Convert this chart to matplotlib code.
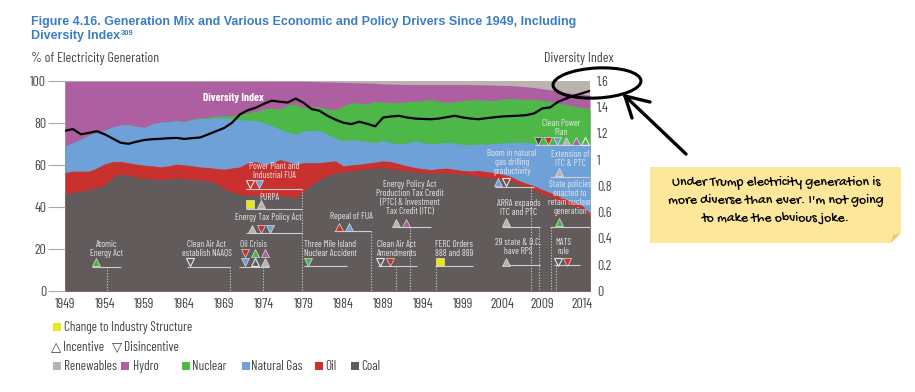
import numpy as np
import matplotlib
matplotlib.use("Agg")
import matplotlib.pyplot as plt
from matplotlib import font_manager
from matplotlib.patches import Ellipse, Rectangle, Polygon
from matplotlib.transforms import IdentityTransform
from matplotlib.lines import Line2D

# ---- data ----
years = np.arange(1949, 2016)

# upper edge of each band, cumulative % of generation
coal_top = [46.0, 47.0, 47.5, 48.2, 49.0, 50.5, 54.0, 55.6, 55.0, 54.0,
            53.5, 53.2, 53.0, 53.2, 53.6, 53.4, 53.2, 52.8, 52.4, 51.0,
            48.5, 47.0, 46.0, 45.5, 45.5, 45.0, 45.2, 45.5, 45.0, 44.4,
            47.5, 50.5, 53.0, 55.0, 56.0, 56.5, 57.0, 57.5, 58.0, 58.5,
            58.7, 58.0, 57.5, 57.0, 56.5, 56.3, 56.0, 56.0, 56.0, 55.8,
            55.6, 55.0, 54.5, 54.0, 53.6, 53.0, 52.2, 51.0, 49.5, 48.3,
            46.0, 45.0, 43.0, 41.0, 40.5, 39.5, 35.5]
oil_top = [56.3, 57.0, 57.0, 57.0, 58.5, 60.5, 61.5, 61.6, 61.0, 60.3,
           59.8, 59.5, 59.0, 59.5, 60.3, 60.0, 59.5, 59.0, 58.7, 58.3,
           57.9, 58.5, 59.0, 61.0, 61.5, 60.3, 60.8, 62.5, 61.5, 60.3,
           61.0, 61.0, 61.0, 61.5, 61.9, 59.5, 60.0, 60.3, 60.8, 61.3,
           61.9, 61.5, 60.5, 59.5, 58.7, 58.2, 57.7, 58.2, 58.4, 57.9,
           57.3, 57.1, 57.3, 56.8, 56.3, 55.5, 54.5, 52.6, 51.2, 50.0,
           48.3, 46.8, 45.3, 43.5, 42.2, 40.7, 37.0]
gas_top = [69.0, 70.5, 72.2, 74.0, 75.5, 76.5, 78.0, 79.0, 79.0, 78.3,
           77.8, 79.5, 80.3, 80.5, 81.0, 80.5, 81.5, 82.0, 82.0, 82.5,
           82.3, 82.0, 81.5, 81.2, 81.0, 80.0, 78.5, 77.0, 75.5, 74.6,
           76.0, 76.5, 76.2, 74.6, 72.5, 71.5, 72.0, 71.5, 71.0, 70.6,
           71.5, 70.6, 70.0, 70.5, 71.4, 70.6, 70.0, 70.3, 70.6, 70.2,
           69.8, 69.5, 70.0, 69.8, 70.2, 70.4, 70.6, 70.8, 70.6, 70.2,
           69.8, 69.8, 70.0, 70.2, 70.0, 70.0, 70.2]
nuclear_top = [69.0, 70.5, 72.2, 74.0, 75.5, 76.5, 78.0, 79.0, 79.0, 78.3,
               77.8, 79.5, 80.3, 80.5, 81.1, 80.7, 81.8, 82.4, 82.6, 83.3,
               83.3, 83.4, 84.1, 84.7, 85.5, 86.5, 87.0, 86.5, 88.5, 88.8,
               87.0, 87.5, 87.8, 86.5, 86.2, 88.0, 89.5, 89.3, 89.0, 90.3,
               89.7, 89.7, 89.5, 90.0, 90.2, 90.6, 91.0, 90.2, 89.7, 90.0,
               90.5, 90.8, 91.0, 90.7, 90.5, 91.2, 91.6, 91.2, 91.1, 91.3,
               90.6, 90.2, 89.2, 88.6, 87.9, 87.3, 86.8]
# renewables share (top band), %
renewables = [0.3] * 31 + [0.4, 0.5, 0.6, 0.7, 0.8, 0.9, 1.0, 1.1, 1.2, 1.5,
                           1.6, 1.7, 1.8, 1.8, 1.8, 1.8, 1.8, 1.8, 1.8, 1.8,
                           1.9, 1.9, 2.0, 2.1, 2.2, 2.3, 2.6, 2.9, 3.3, 3.8,
                           4.3, 5.0, 5.6, 6.1, 6.4, 7.0]

diversity = [1.219, 1.232, 1.192, 1.203, 1.216, 1.192, 1.160, 1.128, 1.120, 1.136,
             1.149, 1.155, 1.158, 1.162, 1.165, 1.157, 1.163, 1.168, 1.192, 1.216,
             1.240, 1.280, 1.344, 1.376, 1.395, 1.424, 1.448, 1.440, 1.434, 1.464,
             1.432, 1.384, 1.371, 1.333, 1.304, 1.280, 1.270, 1.288, 1.272, 1.253,
             1.320, 1.328, 1.333, 1.320, 1.312, 1.309, 1.307, 1.312, 1.323, 1.333,
             1.320, 1.312, 1.307, 1.315, 1.322, 1.328, 1.331, 1.334, 1.338, 1.352,
             1.389, 1.397, 1.440, 1.464, 1.486, 1.504, 1.523]

xtick_years = list(range(1949, 2015, 5))
di_ticks = [0, 0.2, 0.4, 0.6, 0.8, 1.0, 1.2, 1.4, 1.6]
di_labels = ["0", "0.2", "0.4", "0.6", "0.8", "1", "1.2", "1.4", "1.6"]

sources = ["Renewables", "Hydro", "Nuclear", "Natural Gas", "Oil", "Coal"]

# policy / economic events: text, text centre, markers, underline, dotted drop
events = [
    ("Atomic\nEnergy Act", 1954.2, 20.2, [(1952.9, 13.6, "^", "nuc")], (1952.4, 1956.1, 11.6), 1954.3),
    ("Clean Air Act\nestablish NAAQS", 1966.8, 20.2, [(1964.7, 13.6, "v", "open")], (1964.3, 1969.7, 11.6), 1969.7),
    ("Oil Crisis", 1972.7, 22.3, [(1971.6, 17.9, "v", "oil"), (1972.9, 17.9, "^", "nuc"), (1974.1, 17.9, "^", "hydro"),
                                 (1971.6, 13.6, "v", "gas"), (1972.9, 13.6, "^", "open"), (1974.1, 13.6, "^", "ren")],
     (1970.9, 1974.7, 11.6), 1973.9),
    ("Energy Tax Policy Act", 1974.6, 34.9, [(1972.5, 29.5, "^", "ren"), (1973.6, 29.5, "v", "oil"), (1974.8, 29.5, "v", "gas")],
     (1971.8, 1978.8, 27.4), None),
    ("PURPA", 1974.7, 44.5, [(1972.3, 41.2, "s", "yel"), (1973.6, 41.2, "^", "ren")], (1971.8, 1978.8, 38.8), None),
    ("Power Plant and\nIndustrial FUA", 1975.3, 57.0, [(1972.3, 50.9, "v", "open"), (1973.4, 50.9, "v", "gas")],
     (1971.8, 1978.8, 48.5), 1978.8),
    ("Three Mile Island\nNuclear Accident", 1982.3, 20.1, [(1979.6, 13.9, "v", "nuc")], (1979.0, 1984.4, 11.9), None),
    ("Repeal of FUA", 1985.0, 35.3, [(1983.5, 30.6, "^", "oil"), (1984.7, 30.6, "^", "gas")], (1982.8, 1987.5, 28.5), 1987.5),
    ("Energy Policy Act\nProduction Tax Credit\n(PTC) & Investment\nTax Credit (ITC)", 1992.4, 44.2,
     [(1990.6, 32.5, "^", "ren"), (1991.9, 32.5, "^", "hydro")], (1990.2, 1995.0, 30.6), 1992.4),
    ("Clean Air Act\nAmendments", 1990.7, 20.1, [(1988.6, 13.9, "v", "open"), (1989.8, 13.9, "v", "oil")],
     (1988.3, 1993.2, 11.9), 1990.6),
    ("FERC Orders\n888 and 889", 1997.9, 20.1, [(1996.1, 13.9, "s", "yel")], (1995.5, 2000.3, 11.9), 1995.7),
    ("Boom in natural\ngas drilling\nproductivity", 2005.2, 60.9, [(2003.4, 52.0, "^", "gas"), (2004.4, 52.0, "v", "open")],
     (2003.0, 2007.9, 49.3), 2007.6),
    ("ARRA expands\nITC and PTC", 2006.0, 39.5, [(2004.5, 32.7, "^", "ren")], (2003.9, 2008.7, 30.6), 2008.6),
    ("29 state & D.C.\nhave RPS", 2006.0, 20.7, [(2004.5, 13.9, "^", "ren")], (2003.9, 2008.7, 12.4), None),
    ("Clean Power\nPlan", 2011.4, 77.5, [(2008.5, 71.5, "v", "coal"), (2009.7, 71.5, "v", "oil"), (2010.9, 71.5, "v", "gas"),
                                         (2012.0, 71.5, "^", "ren"), (2013.2, 71.5, "^", "hydro"), (2014.4, 71.5, "^", "open")],
     (2008.1, 2015.0, 69.4), None),
    ("Extension of\nITC & PTC", 2012.5, 62.9, [(2011.1, 56.4, "^", "ren")], (2010.0, 2015.0, 54.0), None),
    ("State policies\nenacted to\nretain nuclear\ngeneration", 2012.5, 44.1, [(2011.1, 32.7, "^", "nuc")],
     (2010.0, 2015.0, 30.6), 2010.1),
    ("MATS\nrule", 2011.6, 20.7, [(2011.0, 13.9, "v", "open"), (2012.1, 13.9, "v", "oil")], (2010.5, 2013.7, 12.4), 2010.7),
]

# ---- style ----
COL = {"ren": "#bab3af", "hydro": "#ae5fa1", "nuc": "#4db848", "gas": "#6fa1d9",
       "oil": "#c8312e", "coal": "#4b4646", "yel": "#e8e812"}
band_colors = ["#bab3af", "#ae5fa1", "#4db848", "#6fa1d9", "#c8312e", "#615b5b"]

installed = {f.name for f in font_manager.fontManager.ttflist}


def pick(cands, default="DejaVu Sans"):
    for c in cands:
        if c in installed:
            return c
    return default


NARROW = pick(["Barlow Condensed", "Roboto Condensed", "PT Sans Narrow", "Archivo Narrow", "Liberation Sans Narrow"])
ARIAL = pick(["Liberation Sans", "Arimo"])
HAND = pick(["Gochi Hand", "Patrick Hand", "Indie Flower", "Schoolbell", "Architects Daughter"])
plt.rcParams["font.family"] = [NARROW, "DejaVu Sans"]

W, H = 915, 392
fig = plt.figure(figsize=(W / 100, H / 100), dpi=100)


def fx(x):
    return x / W


def fy(y):
    return 1 - y / H


ax = fig.add_axes([fx(65), fy(291), (590 - 65) / W, (291 - 80.7) / H])

hydro_top = 100 - np.array(renewables)
tops = [np.full(len(years), 100.0), hydro_top, nuclear_top, gas_top, oil_top, coal_top]
for top, c in zip(tops, band_colors):
    ax.fill_between(years, 0, top, color=c, lw=0)

ax.set_xlim(1949, 2015)
ax.set_ylim(0, 100)
ax.set_yticks(range(0, 101, 20))
ax.set_xticks(xtick_years)
ax.tick_params(axis="y", length=12, width=0.8, color="#a8a8a8", pad=1.5, labelsize=10, labelcolor="#444444")
ax.tick_params(axis="x", length=0, pad=5, labelsize=10, labelcolor="#444444")
for s in ax.spines.values():
    s.set_visible(False)

# events
txt_c = "#e6e6e6"
ln_c = "#cfcfcf"
for text, tx, ty, marks, (x0, x1, ly), drop in events:
    ax.text(tx, ty, text, ha="center", va="center", fontsize=6.6, color=txt_c, linespacing=1.0, zorder=6)
    ax.plot([x0, x1], [ly, ly], color=ln_c, lw=0.8, zorder=5, solid_capstyle="butt", clip_on=False)
    if drop is not None:
        ax.plot([drop, drop], [ly, 0], color=ln_c, lw=0.8, ls=(0, (1, 1.5)), zorder=5)
    for mx, my, mk, ck in marks:
        if ck == "open":
            ax.plot(mx, my, marker=mk, ms=5.5, mfc="none", mec="#e8e8e8", mew=0.8, ls="none", zorder=7)
        else:
            ax.plot(mx, my, marker=mk, ms=5.5, mfc=COL[ck], mec="#dddddd", mew=0.5, ls="none", zorder=7)

ax.text(1970.2, 91.6, "Diversity Index", ha="center", va="center", fontsize=8, color="white",
        fontweight="bold", zorder=6)

# diversity index on the right scale
ax2 = ax.twinx()
ax2.plot(years, diversity, color="black", lw=1.6)
ax2.set_ylim(0, 1.6)
ax2.set_yticks(di_ticks)
ax2.set_yticklabels(di_labels)
ax2.tick_params(axis="y", length=0, pad=5, labelsize=10, labelcolor="#444444")
for s in ax2.spines.values():
    s.set_visible(False)

# titles
fig.text(fx(31), fy(25), "Figure 4.16. Generation Mix and Various Economic and Policy Drivers Since 1949, Including",
         fontsize=9, fontweight="bold", color="#3b7dc4", family=ARIAL, va="baseline")
t2 = fig.text(fx(31), fy(39), "Diversity Index", fontsize=9, fontweight="bold", color="#3b7dc4",
              family=ARIAL, va="baseline")
fig.canvas.draw()
bb = t2.get_window_extent()
fig.text(bb.x1 / W + 0.001, fy(39) + 4 / H, "309", fontsize=5.5, fontweight="bold", color="#3b7dc4",
         family=ARIAL, va="baseline")

fig.text(fx(31), fy(62), "% of Electricity Generation", fontsize=10, color="#444444", va="baseline")
fig.text(fx(614), fy(62), "Diversity Index", fontsize=10, color="#444444", va="baseline", ha="right")

# legend


def square(x, yc, color, size=8):
    fig.add_artist(Rectangle((fx(x), fy(yc + size / 2)), size / W, size / H, transform=fig.transFigure,
                             color=color, lw=0))


LEG = dict(fontsize=9.5, color="#444444", va="baseline")
square(53, 327, COL["yel"])
fig.text(fx(64), fy(331), "Change to Industry Structure", **LEG)
fig.text(fx(51), fy(351), "\u25b3", family="DejaVu Sans", **LEG)
fig.text(fx(63), fy(351), "Incentive", **LEG)
fig.text(fx(112), fy(351), "\u25bd", family="DejaVu Sans", **LEG)
fig.text(fx(124), fy(351), "Disincentive", **LEG)
leg_sq = [53, 121, 182, 242, 315, 351]
leg_tx = [64, 133, 192, 251, 325, 361]
for name, c, xs, xt in zip(sources, band_colors, leg_sq, leg_tx):
    square(xs, 366, c)
    fig.text(fx(xt), fy(370), name, **LEG)

# sticky note
note = Polygon([(650, H - 167), (901, H - 167), (901, H - 233), (891, H - 243), (650, H - 243)],
               closed=True, transform=IdentityTransform(), facecolor="#fde79b", edgecolor="none")
fig.add_artist(note)
fold = Polygon([(901, H - 233), (891, H - 243), (893, H - 235)], closed=True, transform=IdentityTransform(),
               facecolor="#e6cd7c", edgecolor="none")
fig.add_artist(fold)
for i, line in enumerate(["Under Trump electricity generation is",
                          "more diverse than ever. I'm not going",
                          "to make the obvious joke."]):
    fig.text(fx(776), fy(183 + 18 * i), line, fontsize=10, color="black", ha="center", va="center",
             family=[HAND, "DejaVu Sans"])

# hand-drawn circle and arrow
fig.add_artist(Ellipse((597, H - 83), 88, 30, angle=3, transform=IdentityTransform(),
                       fill=False, edgecolor="black", lw=2.2))
for (xa, ya), (xb, yb) in [((686, 154), (625, 96)), ((625, 96), (650, 102)), ((625, 96), (632, 118))]:
    fig.add_artist(Line2D([xa, xb], [H - ya, H - yb], transform=IdentityTransform(), color="black", lw=2.4,
                          solid_capstyle="round"))

fig.savefig("out.png", dpi=100)
